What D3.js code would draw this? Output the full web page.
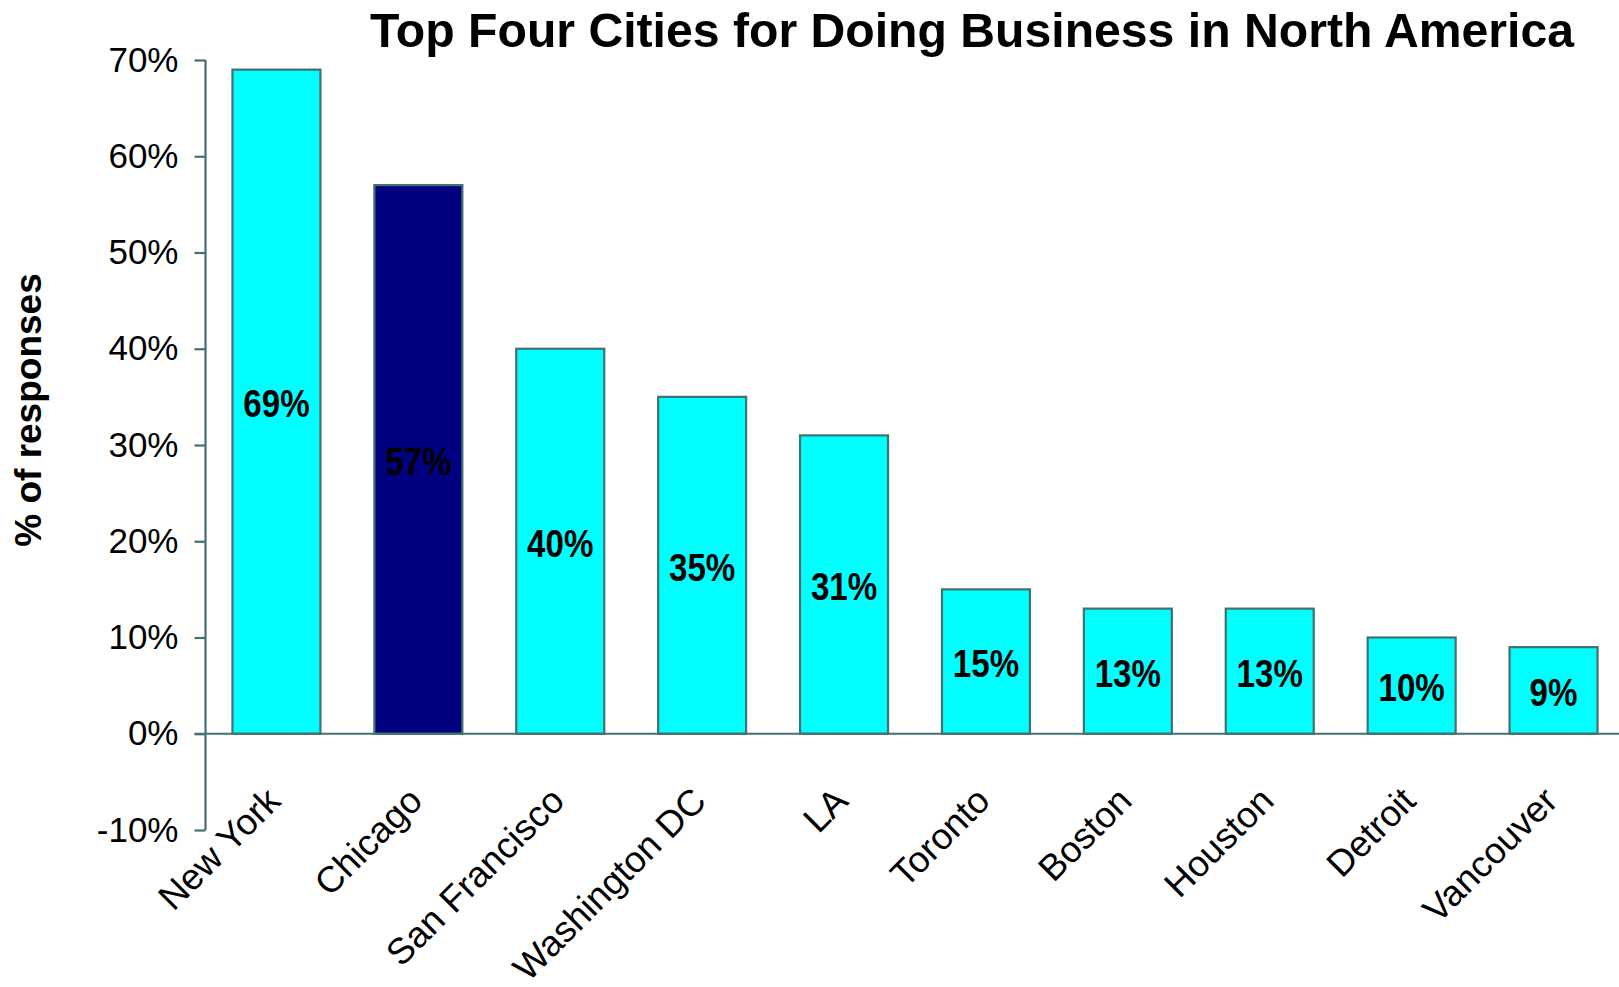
<!DOCTYPE html>
<html>
<head>
<meta charset="utf-8">
<script src="https://cdn.jsdelivr.net/npm/d3@7"></script>
<style>
  html, body { margin: 0; padding: 0; background: #ffffff; }
  svg { display: block; }
  text { font-family: "Liberation Sans", Arial, sans-serif; fill: #000; }
</style>
</head>
<body>
<svg id="chart" width="1619" height="987"></svg>
<script>
// Survey results: share of responses naming each city
const cities = ["New York", "Chicago", "San Francisco", "Washington DC", "LA",
                "Toronto", "Boston", "Houston", "Detroit", "Vancouver"];
const shares = [69, 57, 40, 35, 31, 15, 13, 13, 10, 9];
const highlighted = ["Chicago"];
const yTicks = [-10, 0, 10, 20, 30, 40, 50, 60, 70];
const titleText = "Top Four Cities for Doing Business in North America";
const yTitle = "% of responses";

const W = 1619, H = 987;
const axisColor = "#437070";
const svg = d3.select("#chart");

const x = d3.scaleBand()
  .domain(cities)
  .range([205.5, 1624.5])
  .paddingInner(0.38)
  .paddingOuter(0.19);

const y = d3.scaleLinear()
  .domain([-10, 70])
  .range([830, 60]);

// Bars
svg.append("g").selectAll("rect")
  .data(cities)
  .join("rect")
  .attr("x", d => x(d))
  .attr("width", x.bandwidth())
  .attr("y", (d, i) => y(shares[i]))
  .attr("height", (d, i) => y(0) - y(shares[i]))
  .attr("fill", d => highlighted.includes(d) ? "#000080" : "#00ffff")
  .attr("stroke", axisColor)
  .attr("stroke-width", 2.2);

// Value labels in the middle of each bar (narrow bold)
svg.append("g").selectAll("text")
  .data(cities)
  .join("text")
  .attr("transform", (d, i) =>
    `translate(${x(d) + x.bandwidth() / 2},${(y(shares[i]) + y(0)) / 2 + 2}) scale(0.85,1)`)
  .attr("text-anchor", "middle")
  .attr("dominant-baseline", "central")
  .style("font-weight", "bold")
  .style("font-size", "39px")
  .text((d, i) => shares[i] + "%");

// Y axis
const yAxis = d3.axisLeft(y)
  .tickValues(yTicks)
  .tickSize(11)
  .tickPadding(16)
  .tickFormat(d => d + "%");

const gy = svg.append("g")
  .attr("transform", "translate(205.5,0)")
  .call(yAxis);
gy.select(".domain").attr("stroke", axisColor).attr("stroke-width", 2.2)
  .attr("d", `M0,${y(70)}V${y(-10)}`);
gy.selectAll(".tick line").attr("stroke", axisColor).attr("stroke-width", 2.2);
gy.selectAll(".tick text")
  .attr("fill", "#000")
  .style("font-size", "35px")
  .style("font-family", "'Liberation Sans', Arial, sans-serif");

// Zero baseline across the plot
svg.append("line")
  .attr("x1", 194.5).attr("x2", W)
  .attr("y1", y(0)).attr("y2", y(0))
  .attr("stroke", axisColor)
  .attr("stroke-width", 2.2);

// Category labels, slanted
svg.append("g").selectAll("text")
  .data(cities)
  .join("text")
  .attr("transform", d => `translate(${x(d) + x.bandwidth() / 2 + 6},803) rotate(-45)`)
  .attr("text-anchor", "end")
  .style("font-size", "36.5px")
  .text(d => d);

// Y axis title
svg.append("text")
  .attr("transform", "translate(28,410) rotate(-90)")
  .attr("text-anchor", "middle")
  .attr("dominant-baseline", "central")
  .style("font-weight", "bold")
  .style("font-size", "37px")
  .text(yTitle);

// Chart title
svg.append("text")
  .attr("x", 370)
  .attr("y", 47)
  .attr("textLength", 1204)
  .attr("lengthAdjust", "spacingAndGlyphs")
  .style("font-weight", "bold")
  .style("font-size", "48px")
  .text(titleText);
</script>
</body>
</html>
